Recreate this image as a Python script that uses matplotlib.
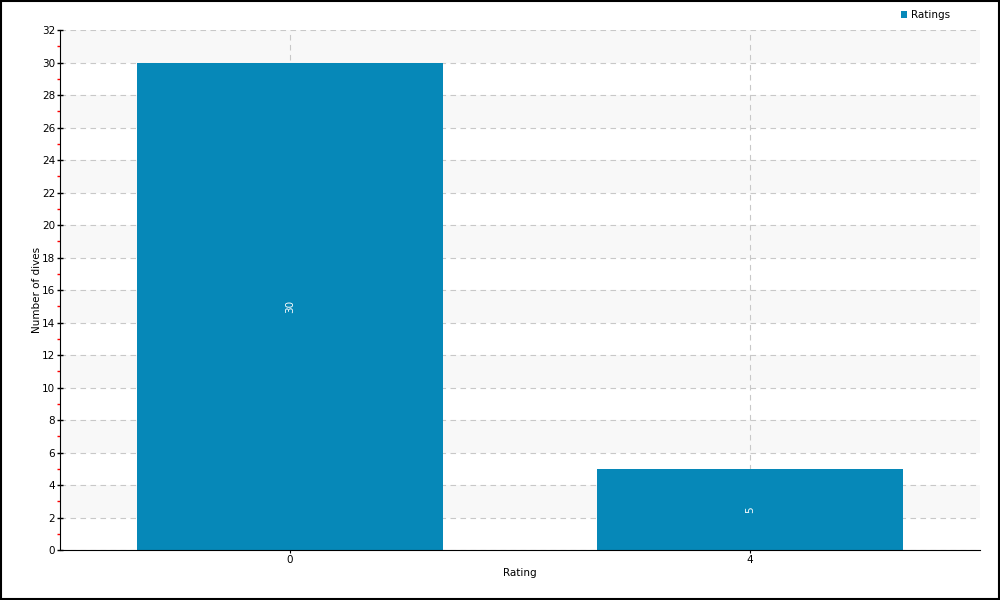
import matplotlib
matplotlib.use("Agg")
import matplotlib.pyplot as plt
from matplotlib.patches import Rectangle
import numpy as np

ratings = ["0", "4"]
dives = [30, 5]
series_name = "Ratings"

bar_color = "#0688b8"

fig = plt.figure(figsize=(10, 6), dpi=100)
fig.patch.set_facecolor("white")
# black frame around the whole picture
fig.add_artist(Rectangle((0.0005, 0.001), 0.998, 0.997, transform=fig.transFigure,
                         fill=False, edgecolor="black", linewidth=1.5))

ax = fig.add_axes([0.06, 0.0833, 0.92, 0.8667])
x = np.arange(len(ratings))
ax.set_xlim(-0.5, len(ratings) - 0.5)
ax.set_ylim(0, 32)

# alternating bands
for lo in range(2, 32, 4):
    ax.axhspan(lo, lo + 2, color="#f8f8f8", zorder=0, linewidth=0)

ax.set_yticks(range(0, 33, 2))
ax.set_yticks(range(1, 32, 2), minor=True)
ax.grid(axis="y", which="major", color="#c8c8c8", linestyle=(0, (5, 4)), linewidth=0.8, zorder=1)
ax.grid(axis="x", which="major", color="#c8c8c8", linestyle=(0, (5, 4)), linewidth=0.8, zorder=1)

bars = ax.bar(x, dives, width=0.665, color=bar_color, zorder=2, label=series_name)
for b, v in zip(bars, dives):
    ax.text(b.get_x() + b.get_width() / 2, v / 2, str(v), rotation=90, color="white",
            ha="center", va="center", fontsize=7.5, zorder=3)

ax.set_xticks(x)
ax.set_xticklabels(ratings)

for side in ["top", "right"]:
    ax.spines[side].set_visible(False)
ax.tick_params(axis="y", which="major", direction="inout", length=5, labelsize=7.5, width=1, pad=1)
ax.tick_params(axis="y", which="minor", direction="out", length=2.5, color="red", width=1)
ax.tick_params(axis="x", which="major", direction="inout", length=5, labelsize=7.5, pad=1)

ax.set_xlabel("Rating", fontsize=7.5)
ax.set_ylabel("Number of dives", fontsize=7.5)
ax.xaxis.set_label_coords(0.5, -0.035)
ax.yaxis.set_label_coords(-0.0195, 0.5)

fig.legend(handles=[bars], labels=[series_name], loc="upper left",
           bbox_to_anchor=(0.897, 0.99), frameon=False, fontsize=7.5,
           handlelength=0.6, handleheight=0.6, handletextpad=0.3, borderaxespad=0)

fig.savefig("out.png", dpi=100)
